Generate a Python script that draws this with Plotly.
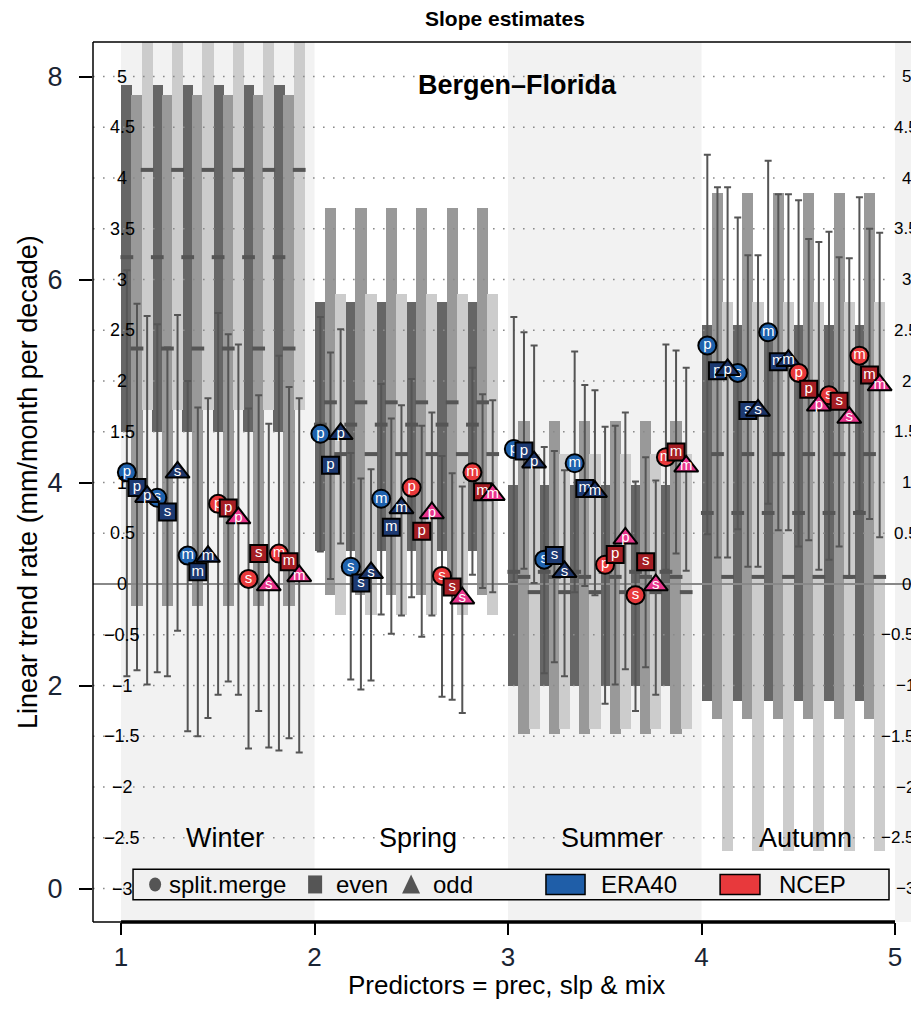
import plotly.graph_objects as go

# ---------------- data ----------------
seasons = ["Winter", "Spring", "Summer", "Autumn"]
season_pos = [1, 2, 3, 4]
reanalyses = ["ERA40", "NCEP"]
predictors = ["p", "s", "m"]
methods = ["split.merge", "even", "odd"]

# grey boxes: per season, per method [split.merge, even, odd]
box_low = {
    "Winter": [1.50, -0.22, 1.71],
    "Spring": [0.33, -0.11, -0.31],
    "Summer": [-1.00, -1.48, -1.43],
    "Autumn": [-1.15, -1.33, -2.63],
}
box_high = {
    "Winter": [4.92, 4.82, 6.00],
    "Spring": [2.78, 3.70, 2.86],
    "Summer": [0.98, 1.61, 1.28],
    "Autumn": [2.55, 3.85, 2.78],
}
box_median = {
    "Winter": [3.22, 2.32, 4.08],
    "Spring": [1.57, 1.79, 1.28],
    "Summer": [0.12, 0.07, -0.08],
    "Autumn": [0.70, 1.28, 0.07],
}

# slope estimates: order = reanalysis (ERA40, NCEP) x predictor (p, s, m) x method (split.merge, even, odd)
est = {
    "Winter": [1.10, 0.95, 0.86, 0.85, 0.71, 1.10, 0.28, 0.12, 0.27, 0.79, 0.75, 0.65, 0.05, 0.30, -0.01, 0.30, 0.22, 0.08],
    "Spring": [1.48, 1.17, 1.48, 0.17, 0.01, 0.11, 0.84, 0.56, 0.75, 0.95, 0.52, 0.70, 0.08, -0.03, -0.14, 1.10, 0.91, 0.88],
    "Summer": [1.33, 1.31, 1.20, 0.24, 0.28, 0.12, 1.19, 0.94, 0.91, 0.19, 0.29, 0.45, -0.11, 0.22, -0.01, 1.25, 1.30, 1.16],
    "Autumn": [2.35, 2.10, 2.11, 2.08, 1.71, 1.71, 2.48, 2.19, 2.20, 2.08, 1.92, 1.76, 1.86, 1.80, 1.64, 2.25, 2.06, 1.96],
}
est_high = {
    "Winter": [3.09, 2.76, 2.64, 2.56, 2.33, 2.65, 2.00, 1.74, 1.83, 2.67, 2.46, 2.36, 1.73, 1.86, 1.58, 2.25, 1.94, 1.83],
    "Spring": [2.63, 2.28, 2.51, 1.29, 1.04, 1.13, 1.97, 1.63, 1.76, 2.02, 1.56, 1.69, 1.26, 1.09, 0.96, 2.13, 1.87, 1.81],
    "Summer": [2.63, 2.48, 2.35, 1.35, 1.31, 1.12, 2.29, 1.96, 1.91, 1.55, 1.56, 1.69, 1.01, 1.25, 1.02, 2.36, 2.30, 2.13],
    "Autumn": [4.23, 3.91, 3.91, 3.61, 3.24, 3.24, 4.17, 3.84, 3.84, 3.78, 3.40, 3.37, 3.47, 3.22, 3.21, 3.81, 3.50, 3.46],
}
est_low = {
    "Winter": [-0.91, -0.85, -0.99, -0.87, -0.91, -0.46, -1.45, -1.50, -1.32, -1.09, -0.96, -1.09, -1.62, -1.25, -1.61, -1.64, -1.52, -1.66],
    "Spring": [0.32, 0.05, 0.40, -0.94, -1.04, -0.95, -0.30, -0.49, -0.31, -0.13, -0.52, -0.31, -1.11, -1.14, -1.27, 0.09, -0.04, -0.08],
    "Summer": [0.02, 0.15, 0.01, -0.88, -0.77, -0.91, -0.08, -0.02, -0.11, -1.18, -0.99, -0.84, -1.25, -0.82, -1.09, 0.14, 0.30, 0.13],
    "Autumn": [0.49, 0.26, 0.26, 0.54, 0.17, 0.17, 0.79, 0.53, 0.53, 0.37, 0.43, 0.14, 0.24, 0.37, 0.06, 0.72, 0.64, 0.46],
}

left_ticks = [0, 2, 4, 6, 8]
inner_ticks = [-3, -2.5, -2, -1.5, -1, -0.5, 0, 0.5, 1, 1.5, 2, 2.5, 3, 3.5, 4, 4.5, 5]
x_ticks = [1, 2, 3, 4, 5]

# ---------------- style ----------------
FONT = "Liberation Sans, Arial, sans-serif"
box_colors = ["#666666", "#999999", "#cccccc"]
marker_symbols = ["circle", "square", "triangle-up"]
marker_sizes = [18, 17, 21]
marker_colors = {
    "ERA40": ["#1f62ad", "#1d3a72", "#1d3568"],
    "NCEP": ["#e8393b", "#a51e24", "#e8358c"],
}
legend_fill = {"ERA40": "#1f5ea8", "NCEP": "#e8393c"}
OFF0, STEP, BW = 0.03, 0.0524, 0.058
YOFF = 3  # left axis = inner scale + 3

X0, X1 = 0.855, 5.124
Y0, Y1 = -3.33, 5.34

fig = go.Figure()


def xpos(s, i):
    return s + OFF0 + i * STEP


# grey boxes
for k, meth in enumerate(methods):
    xs, bases, hs = [], [], []
    for s, sea in zip(season_pos, seasons):
        for j in range(6):
            xs.append(xpos(s, 3 * j + k))
            bases.append(box_low[sea][k])
            hs.append(box_high[sea][k] - box_low[sea][k])
    fig.add_trace(go.Bar(x=xs, y=hs, base=bases, width=BW, yaxis="y2",
                         marker=dict(color=box_colors[k], line=dict(width=0)),
                         showlegend=False, hoverinfo="skip"))

# medians
mx, my = [], []
for k in range(3):
    for s, sea in zip(season_pos, seasons):
        for j in range(6):
            xc = xpos(s, 3 * j + k)
            mx += [xc - BW / 2 - 0.004, xc + BW / 2 + 0.004, None]
            my += [box_median[sea][k]] * 2 + [None]
fig.add_trace(go.Scatter(x=mx, y=my, mode="lines", yaxis="y2",
                         line=dict(color="#555555", width=4), showlegend=False, hoverinfo="skip"))

# dotted grid
gx, gy = [], []
for v in inner_ticks:
    if v == 0:
        continue
    gx += [X0, 4.985, None]
    gy += [v, v, None]
fig.add_trace(go.Scatter(x=gx, y=gy, mode="lines", yaxis="y2",
                         line=dict(color="#8a8a8a", width=1.6, dash="1.6px,8.4px"),
                         showlegend=False, hoverinfo="skip"))
# zero line
fig.add_trace(go.Scatter(x=[X0, X1], y=[0, 0], mode="lines", yaxis="y2",
                         line=dict(color="#888888", width=2), showlegend=False, hoverinfo="skip"))

# error bars
ex, ey, eu, ed = [], [], [], []
for s, sea in zip(season_pos, seasons):
    for i in range(18):
        ex.append(xpos(s, i))
        ey.append(est[sea][i])
        eu.append(est_high[sea][i] - est[sea][i])
        ed.append(est[sea][i] - est_low[sea][i])
fig.add_trace(go.Scatter(x=ex, y=ey, mode="markers", yaxis="y2",
                         marker=dict(size=1, opacity=0),
                         error_y=dict(type="data", symmetric=False, array=eu, arrayminus=ed,
                                      color="#555555", thickness=2, width=3.5),
                         showlegend=False, hoverinfo="skip"))

# markers
for r, rea in enumerate(reanalyses):
    for k in range(3):
        xs, ys, tx = [], [], []
        for s, sea in zip(season_pos, seasons):
            for p, pr in enumerate(predictors):
                i = r * 9 + p * 3 + k
                xs.append(xpos(s, i))
                ys.append(est[sea][i])
                tx.append(pr)
        fig.add_trace(go.Scatter(x=xs, y=ys, mode="markers+text", yaxis="y2",
                                 text=tx, textposition="middle center",
                                 textfont=dict(color="white", size=15, family=FONT),
                                 marker=dict(symbol=marker_symbols[k], size=marker_sizes[k],
                                             color=marker_colors[rea][k],
                                             line=dict(color="black", width=2)),
                                 showlegend=False, hoverinfo="skip", cliponaxis=False))

# anchor trace for left axis
fig.add_trace(go.Scatter(x=[1], y=[4], mode="markers", marker=dict(opacity=0),
                         showlegend=False, hoverinfo="skip"))

shapes = []
for a, b in [(1, 2), (3, 4), (5, X1)]:
    shapes.append(dict(type="rect", xref="x", yref="paper", x0=a, x1=b, y0=0, y1=1,
                       fillcolor="#f2f2f2", line=dict(width=0), layer="below"))
shapes.append(dict(type="line", xref="paper", yref="paper", x0=0, x1=0, y0=0, y1=1,
                   line=dict(color="black", width=1.5)))
shapes.append(dict(type="line", xref="paper", yref="paper", x0=0, x1=1, y0=1, y1=1,
                   line=dict(color="black", width=1.5)))
shapes.append(dict(type="line", xref="paper", yref="paper", x0=0, x1=0.035, y0=0, y1=0,
                   line=dict(color="black", width=1.5)))
shapes.append(dict(type="line", xref="x", yref="paper", x0=1, x1=5, y0=0, y1=0,
                   line=dict(color="black", width=3.5)))

# legend box
LY = -2.96
shapes.append(dict(type="rect", xref="x", yref="y2", x0=1.062, x1=4.969, y0=-3.11, y1=-2.81,
                   fillcolor="#f0f0f0", line=dict(color="black", width=1.5), layer="above"))
pxx, pxy = 1 / 193.5, 1 / 101.5
cx = 1.176
shapes.append(dict(type="circle", xref="x", yref="y2", x0=cx - 6 * pxx, x1=cx + 6 * pxx,
                   y0=LY - 7 * pxy, y1=LY + 7 * pxy, fillcolor="#555555", line=dict(width=0), layer="above"))
sx = 2.003
shapes.append(dict(type="rect", xref="x", yref="y2", x0=sx - 7 * pxx, x1=sx + 7 * pxx,
                   y0=LY - 9 * pxy, y1=LY + 9 * pxy, fillcolor="#555555", line=dict(width=0), layer="above"))
tx0 = 2.499
shapes.append(dict(type="path", xref="x", yref="y2",
                   path=f"M {tx0 - 9 * pxx},{LY - 9 * pxy} L {tx0 + 9 * pxx},{LY - 9 * pxy} L {tx0},{LY + 10 * pxy} Z",
                   fillcolor="#555555", line=dict(width=0), layer="above"))
for rea, (a, b) in zip(reanalyses, [(3.196, 3.398), (4.096, 4.302)]):
    shapes.append(dict(type="rect", xref="x", yref="y2", x0=a, x1=b, y0=LY - 10 * pxy, y1=LY + 10 * pxy,
                       fillcolor=legend_fill[rea], line=dict(color="black", width=1.5), layer="above"))

annotations = []
leg_text = [(1.238, methods[0]), (2.10, methods[1]), (2.602, methods[2]),
            (3.47, reanalyses[0]), (4.39, reanalyses[1])]
for x, t in leg_text:
    annotations.append(dict(x=x, y=LY, xref="x", yref="y2", text=t, showarrow=False,
                            xanchor="left", yanchor="middle", font=dict(size=24, color="black", family=FONT)))


def fmt(v):
    s = ("%g" % abs(v))
    return ("\u2212" + s) if v < 0 else s


for v in inner_ticks:
    annotations.append(dict(x=1.005, y=v, xref="x", yref="y2", text=fmt(v), showarrow=False,
                            xanchor="center", yanchor="middle", font=dict(size=18, color="black", family=FONT)))
    if v < 0:
        annotations.append(dict(x=5.113, y=v, xref="x", yref="y2", text=fmt(v), showarrow=False,
                                xanchor="right", yanchor="middle", font=dict(size=17, color="black", family=FONT)))
    else:
        annotations.append(dict(x=5.057, y=v, xref="x", yref="y2", text=fmt(v), showarrow=False,
                                xanchor="center", yanchor="middle", font=dict(size=17, color="black", family=FONT)))

for s, sea in zip(season_pos, seasons):
    annotations.append(dict(x=s + 0.535, y=-2.5, xref="x", yref="y2", text=sea, showarrow=False,
                            xanchor="center", yanchor="middle", font=dict(size=27, color="black", family=FONT)))

annotations.append(dict(x=3.05, y=4.92, xref="x", yref="y2", text="<b>Bergen\u2013Florida</b>", showarrow=False,
                        xanchor="center", yanchor="middle", font=dict(size=27, color="black", family=FONT)))
annotations.append(dict(x=-0.0787, y=0.5, xref="paper", yref="paper",
                        text="Linear trend rate (mm/month per decade)", textangle=-90,
                        showarrow=False, xanchor="center", yanchor="middle",
                        font=dict(size=27, color="black", family=FONT)))
annotations.append(dict(x=0.5, y=-0.0716, xref="paper", yref="paper",
                        text="Predictors = prec, slp & mix", showarrow=False,
                        xanchor="center", yanchor="middle", font=dict(size=26, color="black", family=FONT)))

# page body has an 8px margin, so the figure is drawn 8px smaller and shifted
fig.update_layout(
    width=911, height=1002,
    margin=dict(l=85, r=0, t=34, b=88),
    paper_bgcolor="white", plot_bgcolor="white",
    barmode="overlay", bargap=0,
    showlegend=False,
    title=dict(text="<b>Slope estimates</b>", x=0.5455, xanchor="center", y=1 - 11 / 1002, yanchor="middle",
               yref="container", font=dict(size=21, color="black", family=FONT)),
    xaxis=dict(range=[X0, X1], tickvals=x_ticks, ticks="outside", ticklen=12, tickwidth=2,
               tickcolor="black", showgrid=False, zeroline=False, showline=False,
               tickfont=dict(size=26, color="#1a2433", family=FONT)),
    yaxis=dict(range=[Y0 + YOFF, Y1 + YOFF], tickvals=left_ticks, ticks="outside", ticklen=13, tickwidth=1.5,
               tickcolor="black", showgrid=False, zeroline=False, showline=False, ticklabelstandoff=11,
               tickfont=dict(size=27, color="#1a2433", family=FONT)),
    yaxis2=dict(range=[Y0, Y1], overlaying="y", visible=False, showgrid=False, zeroline=False),
    shapes=shapes,
    annotations=annotations,
)

fig.write_html("out.html")
